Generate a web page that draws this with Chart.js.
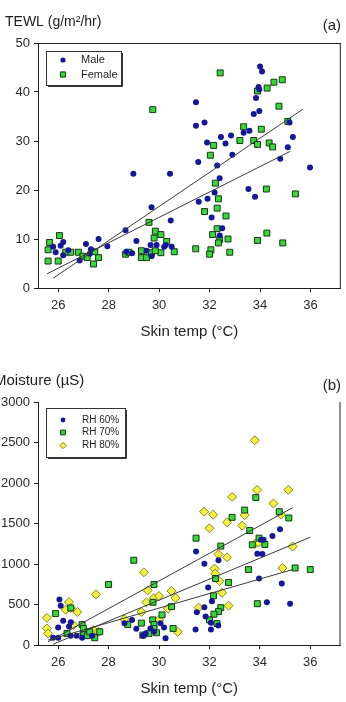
<!DOCTYPE html>
<html>
<head>
<meta charset="utf-8">
<script src="https://cdn.jsdelivr.net/npm/chart.js@4/dist/chart.umd.min.js"></script>
<style>
    body { margin: 0; background: #fff; }
    canvas { position: absolute; left: 0; }
</style>
</head>
<body>
<canvas id="chartTewl" width="346" height="345" style="top:0"></canvas>
<canvas id="chartMoisture" width="346" height="357" style="top:345px"></canvas>
<script>
// ---- (a) TEWL vs skin temp ----
const maleTemp = [28.98, 30.43, 29.7, 30.46, 28.67, 29.1, 27.6, 27.1, 27.95, 26.1, 26.2, 25.8, 25.9, 26.2, 26.4, 26.85, 27.3, 27.25, 28.93, 28.7, 29.5, 29.66, 29.9, 30.2, 30.26, 30.5, 29.7,
    34.0, 34.08, 33.94, 33.84, 33.97, 31.46, 33.75, 33.97, 31.46, 31.8, 32.85, 32.45, 33.35, 33.58, 31.9, 32.63, 35.17, 35.3, 32.9, 35.1, 34.8, 31.55, 32.3, 35.98, 32.4, 31.57, 31.92, 33.54, 33.8, 32.2, 32.08, 32.5, 32.4];
const maleTewl = [23.3, 23.3, 16.5, 13.8, 11.8, 9.6, 10.0, 9.0, 8.5, 8.6, 9.4, 8.4, 7.3, 6.7, 7.7, 5.6, 7.9, 7.0, 7.1, 7.4, 7.6, 8.8, 8.8, 8.4, 8.8, 8.4, 6.5,
    45.2, 44.2, 41.0, 38.8, 40.5, 37.9, 35.5, 36.1, 33.1, 33.8, 31.1, 30.8, 31.7, 32.1, 29.7, 29.5, 33.8, 30.8, 27.2, 28.7, 26.4, 25.7, 25.0, 24.6, 22.4, 17.6, 18.2, 20.2, 18.6, 19.5, 14.4, 12.2, 10.7];
const femaleTemp = [29.75, 29.6, 25.66, 26.05, 25.6, 25.6, 26.0, 26.3, 26.5, 26.8, 26.98, 27.15, 27.4, 27.6, 27.45, 28.67, 28.8, 29.3, 29.3, 29.5, 29.7, 29.8, 29.85, 30.07, 30.3, 30.07, 30.6, 29.85,
    32.42, 34.88, 34.55, 34.28, 33.9, 34.75, 35.1, 33.35, 34.05, 33.2, 33.75, 33.9, 34.36, 34.5, 32.16, 32.03, 34.25, 35.4, 32.23, 32.35, 32.3, 31.8, 32.65, 32.3, 32.12, 32.4, 32.35, 32.73, 34.27, 33.9, 34.9, 31.45, 32.05, 32.0, 32.8];
const femaleTewl = [36.4, 13.4, 9.3, 10.7, 7.8, 5.5, 5.5, 7.3, 7.3, 7.3, 6.5, 6.2, 4.9, 6.2, 7.4, 6.9, 7.3, 7.6, 6.2, 6.2, 7.2, 10.2, 11.6, 10.9, 9.5, 7.2, 7.4, 7.6,
    43.9, 42.5, 42.0, 40.8, 40.2, 37.1, 34.0, 32.9, 32.4, 30.1, 30.1, 29.3, 29.6, 28.8, 29.1, 27.1, 20.2, 19.2, 21.4, 18.2, 16.3, 15.6, 14.7, 12.1, 10.9, 9.9, 9.2, 10.0, 11.2, 9.7, 9.2, 8.0, 7.8, 6.9, 7.3];
const maleFitTemp = [25.8, 35.7];
const maleFitTewl = [2.0, 36.5];
const femaleFitTemp = [25.56, 35.2];
const femaleFitTewl = [2.9, 27.9];
const tewlTicks = [0, 10, 20, 30, 40, 50];

// ---- (b) Moisture vs skin temp ----
const rh60Temp = [26.05, 26.1, 26.2, 26.0, 26.5, 26.43, 25.8, 26.0, 26.5, 26.73, 26.95, 27.35, 28.63, 28.93, 29.1, 29.36, 29.66, 29.8, 30.06, 30.2, 30.26, 29.47,
    34.8, 34.5, 34.05, 34.15, 33.9, 34.1, 31.8, 31.47, 32.36, 33.97, 34.87, 31.95, 32.1, 31.5, 31.8, 31.85, 32.06, 34.28, 35.2, 31.45, 32.06, 32.35];
const rh60Moist = [563, 486, 298, 217, 282, 229, 90, 90, 115, 115, 90, 115, 270, 310, 200, 115, 204, 163, 270, 217, 82, 143,
    1429, 1347, 1298, 1300, 1127, 1123, 1004, 1155, 1045, 821, 760, 709, 541, 404, 465, 351, 274, 527, 510, 192, 192, 241];
const rh70Temp = [29.0, 28.0, 25.9, 26.5, 26.95, 29.8, 29.76, 30.5, 30.12, 28.76, 29.3, 29.75, 29.8, 29.8, 29.9, 29.6, 30.56, 26.35, 27.0, 27.15, 27.45, 27.25, 27.0, 27.65, 29.36,
    33.84, 33.4, 34.77, 32.9, 35.15, 33.6, 31.47, 33.97, 33.7, 34.2, 32.45, 32.76, 33.55, 35.4, 36.0, 32.24, 32.16, 32.45, 32.36, 32.18, 32.0, 32.3, 33.9];
const rh70Moist = [1046, 747, 388, 457, 253, 747, 527, 474, 372, 253, 270, 310, 253, 204, 151, 143, 204, 143, 143, 115, 90, 163, 204, 163, 122,
    1820, 1666, 1646, 1576, 1568, 1413, 1319, 1319, 1237, 1241, 1221, 772, 931, 951, 931, 821, 608, 461, 412, 380, 310, 265, 510];
const rh80Temp = [29.4, 27.5, 25.55, 26.43, 26.5, 26.3, 26.76, 26.6, 25.55, 25.6, 29.55, 29.8, 30.0, 29.5, 30.5, 30.65, 30.36, 29.3, 28.63, 30.0, 27.4, 27.6, 30.74,
    33.8, 33.89, 35.13, 32.9, 34.54, 31.79, 32.15, 33.4, 32.7, 33.3, 32.0, 34.84, 33.84, 33.95, 35.3, 32.36, 32.7, 32.2, 32.23, 32.4, 34.9, 32.5, 32.76, 31.57];
const rh80Moist = [898, 625, 335, 531, 457, 436, 408, 245, 204, 143, 674, 580, 604, 527, 666, 580, 449, 408, 317, 310, 184, 163, 163,
    2527, 1915, 1915, 1829, 1748, 1645, 1609, 1605, 1515, 1474, 1441, 1609, 1257, 1265, 1216, 1119, 1082, 943, 882, 788, 951, 645, 486, 461];
const rh80FitTemp = [25.6, 35.3];
const rh80FitMoist = [40, 1695];
const rh70FitTemp = [25.8, 36.0];
const rh70FitMoist = [10, 1331];
const rh60FitTemp = [25.6, 35.3];
const rh60FitMoist = [60, 931];
const moistureTicks = [0, 500, 1000, 1500, 2000, 2500, 3000];

const tempTicks = [26, 28, 30, 32, 34, 36];

const NAVY = '#16169a';
const GREEN = '#3ad63a';
const GREEN_EDGE = '#123812';
const YELLOW = '#f4f040';
const YELLOW_EDGE = '#8a8420';
const INK = '#1e1e1e';

Chart.defaults.font.family = "'Liberation Sans', Arial, sans-serif";
Chart.defaults.color = INK;

function toPoints(xs, ys) {
    return xs.map((x, i) => ({x: x, y: ys[i]}));
}

function fitLine(xs, ys) {
    return {
        data: toPoints(xs, ys),
        showLine: true,
        pointRadius: 0,
        borderColor: '#3a3a3a',
        borderWidth: 1,
        inLegend: false
    };
}

function drawMarker(ctx, style, x, y, r) {
    ctx.beginPath();
    if (style === 'circle') {
        ctx.arc(x, y, r, 0, Math.PI * 2);
    } else if (style === 'rect') {
        ctx.rect(x - r, y - r, r * 2, r * 2);
    } else {
        ctx.moveTo(x, y - r);
        ctx.lineTo(x + r, y);
        ctx.lineTo(x, y + r);
        ctx.lineTo(x - r, y);
        ctx.closePath();
    }
}

// titles, frame lines and the boxed legend
const panelDecor = {
    id: 'panelDecor',
    afterDraw(chart, args, opts) {
        const ctx = chart.ctx;
        const area = chart.chartArea;
        ctx.save();
        ctx.strokeStyle = INK;
        ctx.lineWidth = 1;
        ctx.beginPath();
        if (opts.frameTop) {
            ctx.moveTo(area.left, area.top + 0.5);
            ctx.lineTo(area.right, area.top + 0.5);
        }
        ctx.moveTo(area.right - 0.5, area.top);
        ctx.lineTo(area.right - 0.5, area.bottom);
        ctx.stroke();

        ctx.fillStyle = INK;
        ctx.textBaseline = 'middle';
        ctx.textAlign = 'left';
        ctx.font = opts.titleFont;
        ctx.fillText(opts.title, opts.titleX, opts.titleY);
        ctx.textAlign = 'right';
        ctx.font = opts.tagFont;
        ctx.fillText(opts.tag, opts.tagX, opts.tagY);

        const box = opts.legend;
        ctx.fillStyle = '#fff';
        ctx.fillRect(box.x, box.y, box.w, box.h);
        ctx.strokeStyle = '#333';
        ctx.strokeRect(box.x + 0.5, box.y + 0.5, box.w, box.h);
        ctx.beginPath();
        ctx.lineWidth = 1;
        ctx.moveTo(box.x + box.w + 1.5, box.y + 2);
        ctx.lineTo(box.x + box.w + 1.5, box.y + box.h + 1.5);
        ctx.lineTo(box.x + 2, box.y + box.h + 1.5);
        ctx.stroke();

        ctx.font = box.font;
        ctx.textAlign = 'left';
        let row = 0;
        chart.data.datasets.forEach(ds => {
            if (ds.inLegend === false) {
                return;
            }
            const cy = box.rowY[row];
            drawMarker(ctx, ds.pointStyle, box.markX, cy, box.markR[row]);
            ctx.fillStyle = ds.backgroundColor;
            ctx.fill();
            if (ds.borderWidth > 0) {
                ctx.strokeStyle = ds.borderColor;
                ctx.lineWidth = 1;
                ctx.stroke();
            }
            ctx.fillStyle = INK;
            ctx.fillText(ds.label, box.textX, cy);
            row++;
        });
        ctx.restore();
    }
};

function makeScales(yMax, yTicks) {
    return {
        x: {
            type: 'linear',
            min: 25.2,
            max: 37.2,
            afterBuildTicks: s => { s.ticks = tempTicks.map(v => ({value: v})); },
            afterFit: s => { s.height = 57; },
            ticks: {font: {size: 13}, padding: 6, color: '#2a2a2a', callback: v => String(v)},
            grid: {drawOnChartArea: false, drawTicks: true, tickLength: 4, color: INK},
            border: {display: true, color: INK, width: 1},
            title: {display: true, text: 'Skin temp (°C)', font: {size: 15}, color: INK, padding: {top: 4, bottom: 4}}
        },
        y: {
            type: 'linear',
            min: 0,
            max: yMax,
            afterBuildTicks: s => { s.ticks = yTicks.map(v => ({value: v})); },
            afterFit: s => { s.width = 38; },
            ticks: {font: {size: 13}, padding: 4, color: '#2a2a2a', callback: v => String(v)},
            grid: {drawOnChartArea: false, drawTicks: true, tickLength: 4, color: INK},
            border: {display: true, color: INK, width: 1}
        }
    };
}

new Chart(document.getElementById('chartTewl'), {
    type: 'scatter',
    data: {
        datasets: [
            fitLine(maleFitTemp, maleFitTewl),
            fitLine(femaleFitTemp, femaleFitTewl),
            {label: 'Male', data: toPoints(maleTemp, maleTewl), pointStyle: 'circle', pointRadius: 3,
                backgroundColor: NAVY, borderColor: NAVY, borderWidth: 0},
            {label: 'Female', data: toPoints(femaleTemp, femaleTewl), pointStyle: 'rect', pointRadius: 4.2,
                backgroundColor: GREEN, borderColor: GREEN_EDGE, borderWidth: 1}
        ]
    },
    options: {
        responsive: false,
        animation: false,
        devicePixelRatio: 1,
        events: [],
        layout: {padding: {left: 0, top: 43, right: 5, bottom: 0}},
        scales: makeScales(50, tewlTicks),
        plugins: {
            legend: {display: false},
            tooltip: {enabled: false},
            panelDecor: {
                frameTop: true,
                title: 'TEWL (g/m²/hr)', titleX: 5, titleY: 22, titleFont: "14px 'Liberation Sans', Arial",
                tag: '(a)', tagX: 341, tagY: 26, tagFont: "15px 'Liberation Sans', Arial",
                legend: {x: 46, y: 51, w: 75, h: 34, font: "11px 'Liberation Sans', Arial",
                    markX: 63, textX: 81, rowY: [60, 74.5], markR: [2.6, 2.6]}
            }
        }
    },
    plugins: [panelDecor]
});

new Chart(document.getElementById('chartMoisture'), {
    type: 'scatter',
    data: {
        datasets: [
            fitLine(rh80FitTemp, rh80FitMoist),
            fitLine(rh70FitTemp, rh70FitMoist),
            fitLine(rh60FitTemp, rh60FitMoist),
            {label: 'RH 60%', data: toPoints(rh60Temp, rh60Moist), pointStyle: 'circle', pointRadius: 3,
                backgroundColor: NAVY, borderColor: NAVY, borderWidth: 0},
            {label: 'RH 70%', data: toPoints(rh70Temp, rh70Moist), pointStyle: 'rect', pointRadius: 4.2,
                backgroundColor: GREEN, borderColor: GREEN_EDGE, borderWidth: 1},
            {label: 'RH 80%', data: toPoints(rh80Temp, rh80Moist), pointStyle: 'rectRot', pointRadius: 4.5,
                backgroundColor: YELLOW, borderColor: YELLOW_EDGE, borderWidth: 1}
        ]
    },
    options: {
        responsive: false,
        animation: false,
        devicePixelRatio: 1,
        events: [],
        layout: {padding: {left: 0, top: 57, right: 5, bottom: 0}},
        scales: makeScales(3000, moistureTicks),
        plugins: {
            legend: {display: false},
            tooltip: {enabled: false},
            panelDecor: {
                frameTop: false,
                title: 'Moisture (µS)', titleX: -6, titleY: 36, titleFont: "15px 'Liberation Sans', Arial",
                tag: '(b)', tagX: 341, tagY: 41, tagFont: "15px 'Liberation Sans', Arial",
                legend: {x: 46, y: 63, w: 79, h: 49, font: "10px 'Liberation Sans', Arial",
                    markX: 63, textX: 82, rowY: [75, 87.5, 100.5], markR: [2.4, 2.4, 3.2]}
            }
        }
    },
    plugins: [panelDecor]
});
</script>
</body>
</html>
